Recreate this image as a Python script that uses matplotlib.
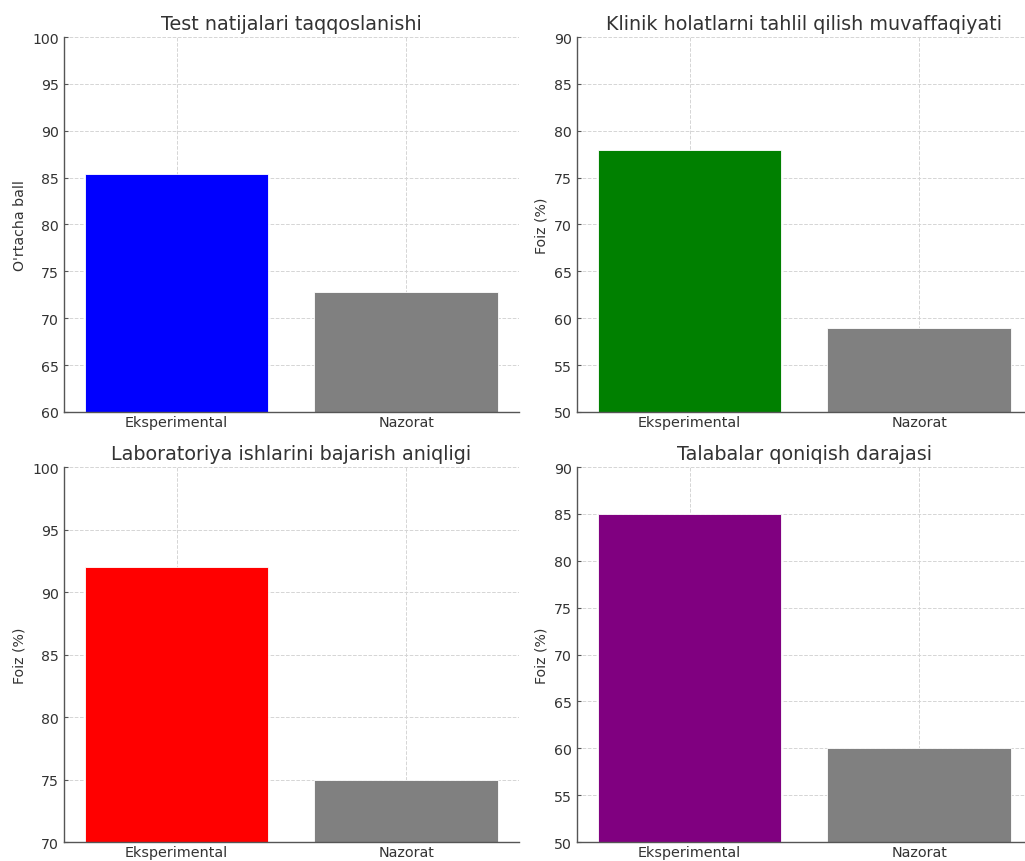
import matplotlib.pyplot as plt

groups = ["Eksperimental", "Nazorat"]

titles = ["Test natijalari taqqoslanishi",
          "Klinik holatlarni tahlil qilish muvaffaqiyati",
          "Laboratoriya ishlarini bajarish aniqligi",
          "Talabalar qoniqish darajasi"]
ylabels = ["O'rtacha ball", "Foiz (%)", "Foiz (%)", "Foiz (%)"]

test_scores = [85.4, 72.8]
clinical_success = [78, 59]
lab_accuracy = [92, 75]
satisfaction = [85, 60]

values = [test_scores, clinical_success, lab_accuracy, satisfaction]
main_colors = ["blue", "green", "red", "purple"]
ylims = [(60, 100), (50, 90), (70, 100), (50, 90)]

plt.rcParams['font.family'] = ['DejaVu Sans']
text_col = "#333333"

fig = plt.figure(figsize=(10.25, 8.62), dpi=100)
positions = [[0.0624, 0.5209, 0.4439, 0.435],
             [0.5629, 0.5209, 0.4439, 0.435],
             [0.0624, 0.0220, 0.4439, 0.435],
             [0.5629, 0.0220, 0.4439, 0.435]]

for i in range(4):
    ax = fig.add_axes(positions[i])
    ax.bar(groups, values[i], color=[main_colors[i], "gray"], width=0.8,
           edgecolor="white", linewidth=0.6, zorder=2)
    ax.set_ylim(*ylims[i])
    ax.set_xlim(-0.49, 1.49)
    ax.set_title(titles[i], fontsize=13.8, color=text_col, pad=6)
    ax.set_ylabel(ylabels[i], fontsize=10.2, color=text_col)
    ax.grid(True, linestyle="--", color="#d5d5d5", linewidth=0.7, zorder=0)
    ax.spines["top"].set_visible(False)
    ax.spines["right"].set_visible(False)
    for s in ["left", "bottom"]:
        ax.spines[s].set_color("#555555")
        ax.spines[s].set_linewidth(1.0)
    ax.tick_params(axis="both", direction="in", colors="#555555",
                   labelcolor=text_col, labelsize=10.2, length=3)
    ax.tick_params(axis="x", labelsize=10.4, pad=2)

fig.savefig("out.png", dpi=100)
